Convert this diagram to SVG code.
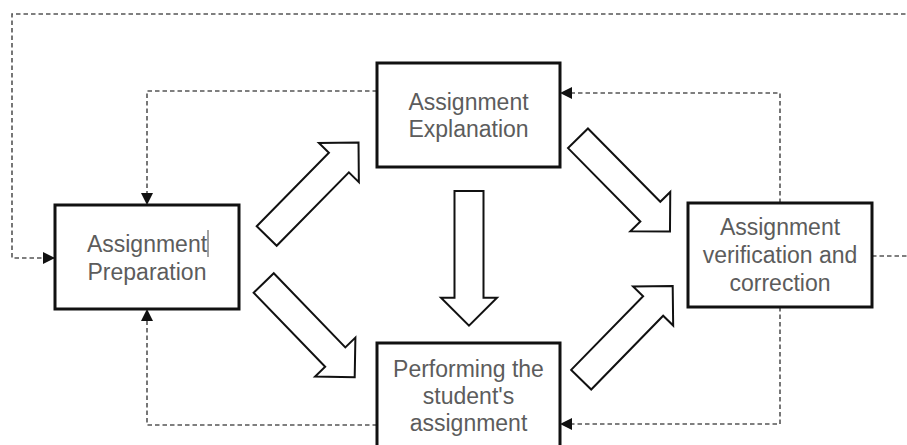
<svg xmlns="http://www.w3.org/2000/svg" xmlns:xlink="http://www.w3.org/1999/xlink" width="907" height="445" viewBox="0 0 907 445">
  <style>
    .box { fill: #ffffff; stroke: #111111; stroke-width: 3; }
    .label { font-family: "Liberation Sans", Arial, Helvetica, sans-serif; font-size: 23px; fill: #5c5c5c; text-anchor: middle; }
    .link { fill: none; stroke: #555555; stroke-width: 1.6; stroke-dasharray: 4.5 3; }
    .block { fill: #ffffff; stroke: #111111; stroke-width: 2; stroke-linejoin: miter; }
  </style>
  <defs>
    <marker id="tri" markerUnits="userSpaceOnUse" markerWidth="12" markerHeight="12" refX="12" refY="6" orient="auto">
      <path d="M0,0 L12,6 L0,12 Z" fill="#111111"/>
    </marker>
    <!-- hollow block arrow pointing along +x, tail centre at origin -->
    <path id="blk" d="M0,-14 H103 V-28 L131,0 L103,28 V14 H0 Z"/>
  </defs>

  <rect width="907" height="445" fill="#ffffff"/>

  <!-- dashed feedback connectors -->
  <g id="connectors">
    <path class="link" d="M872,256 H914 V14 H12 V258 H55" marker-end="url(#tri)"/>
    <path class="link" d="M377,91 H147 V205" marker-end="url(#tri)"/>
    <path class="link" d="M780,203 V93 H560" marker-end="url(#tri)"/>
    <path class="link" d="M780,307 V424 H560" marker-end="url(#tri)"/>
    <path class="link" d="M377,425 H147 V309" marker-end="url(#tri)"/>
  </g>

  <!-- hollow flow arrows between stages -->
  <g id="flow-arrows">
    <use xlink:href="#blk" class="block" transform="translate(266.7,236) rotate(-45.5)"/>
    <use xlink:href="#blk" class="block" transform="translate(263.7,283) rotate(46)"/>
    <use xlink:href="#blk" class="block" transform="translate(578,138.3) rotate(45.4)"/>
    <use xlink:href="#blk" class="block" transform="translate(581.2,379.7) rotate(-45.7)"/>
    <path class="block" d="M454.5,191 H483.5 V297.7 H497 L469,325.7 L441,297.7 H454.5 Z"/>
  </g>

  <g id="preparation">
    <rect class="box" x="55" y="205" width="184" height="104"/>
    <text class="label" x="147" y="252">Assignment</text>
    <text class="label" x="147" y="280">Preparation</text>
    <line x1="208" y1="230" x2="208" y2="257" stroke="#444444" stroke-width="1"/>
  </g>

  <g id="explanation">
    <rect class="box" x="377" y="63" width="183" height="104"/>
    <text class="label" x="468.5" y="110">Assignment</text>
    <text class="label" x="468.5" y="137">Explanation</text>
  </g>

  <g id="verification">
    <rect class="box" x="688" y="203" width="184" height="104"/>
    <text class="label" x="780" y="235">Assignment</text>
    <text class="label" x="780" y="263">verification and</text>
    <text class="label" x="780" y="291">correction</text>
  </g>

  <g id="performing">
    <rect class="box" x="377" y="343" width="183" height="104"/>
    <text class="label" x="468.5" y="377">Performing the</text>
    <text class="label" x="468.5" y="404">student's</text>
    <text class="label" x="468.5" y="431">assignment</text>
  </g>
</svg>
